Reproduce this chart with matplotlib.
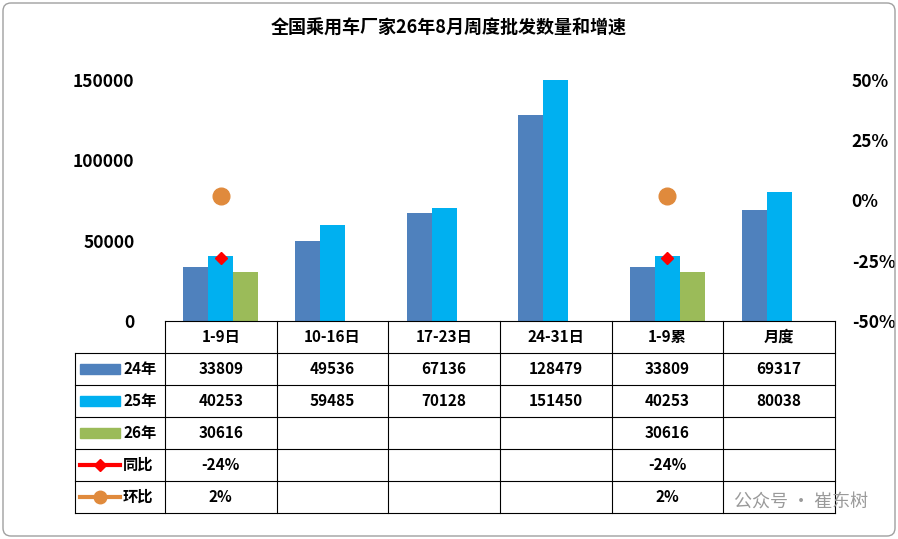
import numpy as np
import matplotlib.pyplot as plt
from matplotlib.patches import FancyBboxPatch

plt.rcParams['font.family'] = ['Noto Sans CJK SC', 'DejaVu Sans']
plt.rcParams['font.weight'] = 'bold'

cats = ["1-9日", "10-16日", "17-23日", "24-31日", "1-9累", "月度"]
s24 = [33809, 49536, 67136, 128479, 33809, 69317]
s25 = [40253, 59485, 70128, 151450, 40253, 80038]
s26 = [30616, None, None, None, 30616, None]
yoy = [-0.24, None, None, None, -0.24, None]
mom = [0.02, None, None, None, 0.02, None]
series_names = ["24年", "25年", "26年", "同比", "环比"]
c24, c25, c26, cy, cm = "#4f81bd", "#00b0f0", "#9bbb59", "#ff0000", "#e08a3c"

W, H = 898, 539
fig = plt.figure(figsize=(W / 100, H / 100), dpi=100)
L, R, T, B = 165, 835, 80, 321
ax = fig.add_axes([L / W, 1 - B / H, (R - L) / W, (B - T) / H])
x = np.arange(len(cats))
bw = 25 / 112
ax.bar(x - bw, s24, bw, color=c24)
ax.bar(x, s25, bw, color=c25)
ax.bar([xi + bw for xi, v in zip(x, s26) if v], [v for v in s26 if v], bw, color=c26)
ax.set_xlim(-0.5, len(cats) - 0.5)
ax.set_ylim(0, 150000)
ax.set_yticks([0, 50000, 100000, 150000])
ax.tick_params(axis='y', length=0, labelsize=12.5, pad=22)
ax.set_xticks([])
for s in ax.spines.values():
    s.set_visible(False)
ax2 = ax.twinx()
ax2.set_ylim(-0.5, 0.5)
ax2.set_yticks([-0.5, -0.25, 0, 0.25, 0.5])
ax2.set_yticklabels(["-50%", "-25%", "0%", "25%", "50%"])
ax2.tick_params(axis='y', length=0, labelsize=12.5, pad=12)
for s in ax2.spines.values():
    s.set_visible(False)
for xi, v in zip(x, yoy):
    if v is not None:
        ax2.plot(xi, v, marker='D', color=cy, markersize=6, linestyle='none')
for xi, v in zip(x, mom):
    if v is not None:
        ax2.plot(xi, v, marker='o', color=cm, markersize=12, linestyle='none')

# table
t = fig.add_axes([0, 0, 1, 1])
t.set_xlim(0, W)
t.set_ylim(H, 0)
t.axis('off')
x0 = 75
cw = (R - L) / len(cats)
rh = 32
rows = [s24, s25, s26, yoy, mom]
ytop = B
kw = dict(color='black', lw=0.8)
t.plot([L, R], [ytop, ytop], **kw)
for i in range(len(rows) + 1):
    y = ytop + rh * (i + 1)
    t.plot([x0, R], [y, y], **kw)
yend = ytop + rh * (len(rows) + 1)
t.plot([x0, x0], [ytop + rh, yend], **kw)
for j in range(len(cats) + 1):
    t.plot([L + cw * j, L + cw * j], [ytop, yend], **kw)
for j, c in enumerate(cats):
    t.text(L + cw * (j + 0.5), ytop + rh / 2, c, ha='center', va='center', fontsize=11)
styles = [('bar', c24), ('bar', c25), ('bar', c26), ('D', cy), ('o', cm)]
for i, (row, name) in enumerate(zip(rows, series_names)):
    yc = ytop + rh * (i + 1.5)
    kind, col = styles[i]
    if kind == 'bar':
        t.add_patch(plt.Rectangle((80, yc - 5), 40, 10, color=col))
    else:
        t.plot([80, 120], [yc, yc], color=col, lw=3)
        t.plot(100, yc, marker=kind, color=col, markersize=6 if kind == 'D' else 9)
    t.text(123, yc, name, ha='left', va='center', fontsize=11)
    for j, v in enumerate(row):
        if v is None:
            continue
        s = f"{v:.0%}" if i >= 3 else f"{v}"
        t.text(L + cw * (j + 0.5), yc, s, ha='center', va='center', fontsize=11)

t.text(W / 2, 28, "全国乘用车厂家26年8月周度批发数量和增速", ha='center', va='center', fontsize=13)
t.text(868, 503, "公众号 · 崔东树", ha='right', va='center', fontsize=13, color='#9a9a9a', fontweight='normal')
t.add_patch(FancyBboxPatch((3, 3), W - 6, H - 6, boxstyle="round,pad=0,rounding_size=8",
                           fill=False, ec='#a0a0a0', lw=1))
fig.savefig("out.png", dpi=100)
